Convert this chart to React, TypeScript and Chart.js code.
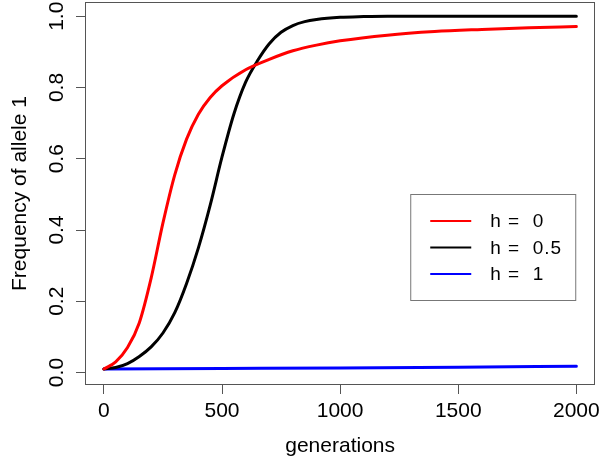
import React, { useEffect, useRef } from 'react';
import { Chart, registerables } from 'chart.js';

Chart.register(...registerables);

// ---- data ----
const seriesLabels = ['h =  0', 'h =  0.5', 'h =  1'];
const seriesColors = ['#ff0000', '#000000', '#0000ff'];

const redGen = [0, 50, 100, 150, 200, 250, 300, 350, 400, 450, 500, 600, 700, 800, 900, 1000, 1200, 1400, 1600, 1800, 2000];
const redFreq = [0.010, 0.030, 0.070, 0.140, 0.265, 0.420, 0.555, 0.655, 0.725, 0.772, 0.805, 0.850, 0.879, 0.903, 0.919, 0.931, 0.947, 0.957, 0.963, 0.968, 0.971];

const blackGen = [0, 50, 100, 150, 200, 250, 300, 350, 400, 450, 500, 550, 600, 650, 700, 750, 800, 850, 900, 1000, 1100, 1200, 1500, 2000];
const blackFreq = [0.010, 0.014, 0.025, 0.045, 0.072, 0.111, 0.168, 0.250, 0.350, 0.470, 0.605, 0.725, 0.815, 0.875, 0.923, 0.955, 0.974, 0.985, 0.991, 0.997, 0.999, 1.0, 1.0, 1.0];

const blueGen = [0, 500, 1000, 1500, 2000];
const blueFreq = [0.010, 0.0115, 0.013, 0.015, 0.0175];

const xTicks = [0, 500, 1000, 1500, 2000];
const xTickLabels = ['0', '500', '1000', '1500', '2000'];
const yTicks = [0, 0.2, 0.4, 0.6, 0.8, 1.0];
const yTickLabels = ['0.0', '0.2', '0.4', '0.6', '0.8', '1.0'];

const xTitle = 'generations';
const yTitle = 'Frequency of allele 1';

const FONT = "'Liberation Sans', Arial, Helvetica, sans-serif";
const AXIS_GRAY = '#555555';

function toPoints(xs: number[], ys: number[]) {
  return xs.map((x, i) => ({ x, y: ys[i] }));
}

const rPlotPlugin = {
  id: 'rPlot',
  afterDraw(chart: any) {
    const { ctx, chartArea } = chart;
    const yScale = chart.scales.y;
    ctx.save();
    // plot box
    ctx.strokeStyle = AXIS_GRAY;
    ctx.lineWidth = 1;
    ctx.strokeRect(
      Math.round(chartArea.left) + 0.5,
      Math.round(chartArea.top) + 0.5,
      Math.round(chartArea.right - chartArea.left) - 1,
      Math.round(chartArea.bottom - chartArea.top) - 1
    );
    // y tick labels, rotated like R (las = 0)
    ctx.fillStyle = '#000';
    ctx.font = `21px ${FONT}`;
    ctx.textAlign = 'center';
    ctx.textBaseline = 'alphabetic';
    yTicks.forEach((v, i) => {
      const py = yScale.getPixelForValue(v);
      ctx.save();
      ctx.translate(chartArea.left - 22.5, py);
      ctx.rotate(-Math.PI / 2);
      ctx.fillText(yTickLabels[i], 0, 0);
      ctx.restore();
    });
    // legend
    const lx = chartArea.right - 185;
    const ly = chartArea.top + 192;
    const lw = 165;
    const lh = 106;
    ctx.strokeStyle = '#777777';
    ctx.strokeRect(lx + 0.5, ly + 0.5, lw, lh);
    ctx.font = `19px ${FONT}`;
    try { (ctx as any).letterSpacing = '1px'; } catch (e) { /* ignore */ }
    ctx.textAlign = 'left';
    chart.data.datasets.forEach((ds: any, i: number) => {
      const rowY = ly + 27 + i * 26.5;
      ctx.strokeStyle = ds.borderColor;
      ctx.lineWidth = 2;
      ctx.beginPath();
      ctx.moveTo(lx + 20, rowY);
      ctx.lineTo(lx + 61, rowY);
      ctx.stroke();
      ctx.fillStyle = '#000';
      ctx.fillText(ds.label, lx + 80, rowY + 6);
    });
    try { (ctx as any).letterSpacing = '0px'; } catch (e) { /* ignore */ }
    ctx.restore();
  },
};

export default function App() {
  const canvasRef = useRef<HTMLCanvasElement | null>(null);

  useEffect(() => {
    const canvas = canvasRef.current;
    if (!canvas) return;
    const datasets = [
      { label: seriesLabels[0], data: toPoints(redGen, redFreq), borderColor: seriesColors[0] },
      { label: seriesLabels[1], data: toPoints(blackGen, blackFreq), borderColor: seriesColors[1] },
      { label: seriesLabels[2], data: toPoints(blueGen, blueFreq), borderColor: seriesColors[2] },
    ].map((d) => ({
      ...d,
      borderWidth: 3,
      pointRadius: 0,
      fill: false,
      cubicInterpolationMode: 'monotone' as const,
      borderCapStyle: 'round' as const,
    }));

    const chart = new Chart(canvas, {
      type: 'line',
      data: { datasets },
      plugins: [rPlotPlugin],
      options: {
        responsive: false,
        animation: false,
        devicePixelRatio: 1,
        layout: { padding: { left: 0, right: 8, top: 2, bottom: 0 } },
        plugins: { legend: { display: false }, tooltip: { enabled: false }, title: { display: false } },
        scales: {
          x: {
            type: 'linear',
            min: -80,
            max: 2080,
            afterBuildTicks: (s: any) => {
              s.ticks = xTicks.map((v) => ({ value: v }));
            },
            afterFit: (s: any) => {
              s.height = 77;
            },
            ticks: {
              color: '#000',
              font: { family: FONT, size: 21 },
              padding: 5,
              maxRotation: 0,
              autoSkip: false,
              callback: (v: any) => {
                const i = xTicks.indexOf(Number(v));
                return i >= 0 ? xTickLabels[i] : '';
              },
            },
            grid: { drawOnChartArea: false, drawTicks: true, tickLength: 9, color: AXIS_GRAY },
            border: { display: false },
            title: {
              display: true,
              text: xTitle,
              color: '#000',
              font: { family: FONT, size: 21 },
              padding: { top: 3, bottom: 3 },
            },
          },
          y: {
            type: 'linear',
            min: -0.035,
            max: 1.04,
            afterBuildTicks: (s: any) => {
              s.ticks = yTicks.map((v) => ({ value: v }));
            },
            afterFit: (s: any) => {
              s.width = 85;
            },
            ticks: { display: false },
            grid: { drawOnChartArea: false, drawTicks: true, tickLength: 9, color: AXIS_GRAY },
            border: { display: false },
            title: {
              display: true,
              text: yTitle,
              color: '#000',
              font: { family: FONT, size: 21 },
              padding: { top: 8, bottom: 0 },
            },
          },
        },
      },
    });
    return () => chart.destroy();
  }, []);

  return (
    <div style={{ position: 'absolute', left: 0, top: 0, width: 605, height: 462, background: '#fff' }}>
      <canvas ref={canvasRef} width={605} height={462} style={{ display: 'block' }} />
    </div>
  );
}
